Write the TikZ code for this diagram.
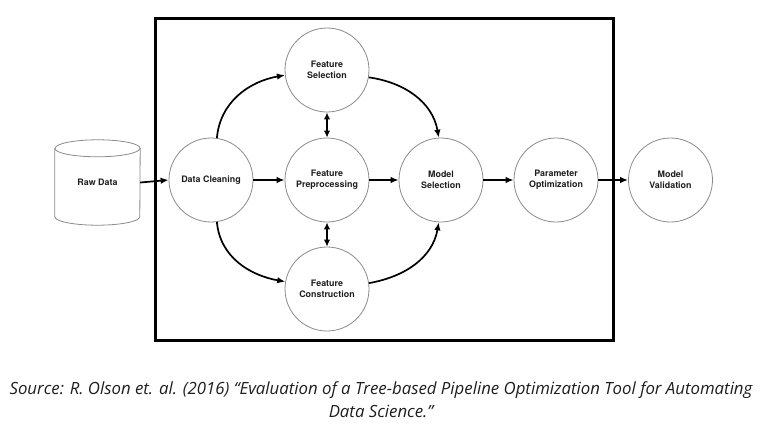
\documentclass[tikz,border=0pt]{standalone}
\usepackage{fontspec}
\newfontfamily\helv{TeX Gyre Heros}
\newfontfamily\opensans{Open Sans}
\usetikzlibrary{arrows.meta}
\definecolor{txt}{HTML}{1E1E1E}
\definecolor{circ}{HTML}{8A8A8A}
\begin{document}
\begin{tikzpicture}[x=1pt,y=1pt,
  stage/.style={circle,draw=circ,line width=0.8pt,minimum size=84pt,inner sep=0pt,
    font=\helv\bfseries\fontsize{8.9}{11}\selectfont,text=txt,align=center},
  flow/.style={line width=1.7pt,draw=black,-{Latex[length=8pt,width=6.5pt]}},
  both/.style={line width=1.7pt,draw=black,{Latex[length=7pt,width=6.5pt]}-{Latex[length=7pt,width=6.5pt]}},
  cyl/.style={draw=circ,line width=0.8pt}]
\useasboundingbox (0,0) rectangle (760,-426);
% frame
\draw[line width=3pt,black] (155,-18) rectangle (613,-340);
% raw data cylinder
\node[minimum width=85pt,minimum height=85pt,inner sep=0pt,
  font=\helv\bfseries\fontsize{8.9}{11}\selectfont,text=txt] (raw) at (97.5,-182.5) {Raw Data};
\draw[cyl] ([yshift=-8.5pt]raw.north west) -- ([yshift=8.5pt]raw.south west)
  arc[start angle=180,end angle=360,x radius=42.5pt,y radius=8.5pt]
  -- ([yshift=-8.5pt]raw.north east)
  arc[start angle=0,end angle=180,x radius=42.5pt,y radius=8.5pt] -- cycle;
\draw[cyl] ([yshift=-8.5pt]raw.north west)
  arc[start angle=180,end angle=360,x radius=42.5pt,y radius=8.5pt];
% stages
\node[stage] (dc) at (211,-180) {Data Cleaning};
\node[stage] (fs) at (327,-70) {Feature\\Selection};
\node[stage] (fp) at (327,-180) {Feature\\Preprocessing};
\node[stage] (fc) at (327,-289) {Feature\\Construction};
\node[stage] (ms) at (441,-180) {Model\\Selection};
\node[stage] (po) at (556,-180) {Parameter\\Optimization};
\node[stage] (mv) at (670.5,-180) {Model\\Validation};
% connectors
\draw[flow] (raw.east) -- (dc.west);
\draw[flow] (dc.east) -- (fp.west);
\draw[flow] (fp.east) -- (ms.west);
\draw[flow] (ms.east) -- (po.west);
\draw[flow] (po.east) -- (mv.west);
\draw[flow] (dc.82) to[out=85,in=190] (fs.187);
\draw[flow] (dc.278) to[out=-85,in=170] (fc.170);
\draw[flow] (fs.350) to[out=-8,in=100] (ms.93);
\draw[flow] (fc.8) to[out=10,in=-100] (ms.267);
\draw[both] (fs.south) -- (fp.north);
\draw[both] (fp.south) -- (fc.north);
% caption
\node[font=\opensans\itshape\fontsize{16.8}{20}\selectfont,text=txt] (cap1) at (381,-390)
  {Source: R. Olson et. al. (2016) “Evaluation of a Tree-based Pipeline Optimization Tool for Automating};
\node[font=\opensans\itshape\fontsize{16.8}{20}\selectfont,text=txt] (cap2) at (381,-411)
  {Data Science.”};
\end{tikzpicture}
\end{document}
